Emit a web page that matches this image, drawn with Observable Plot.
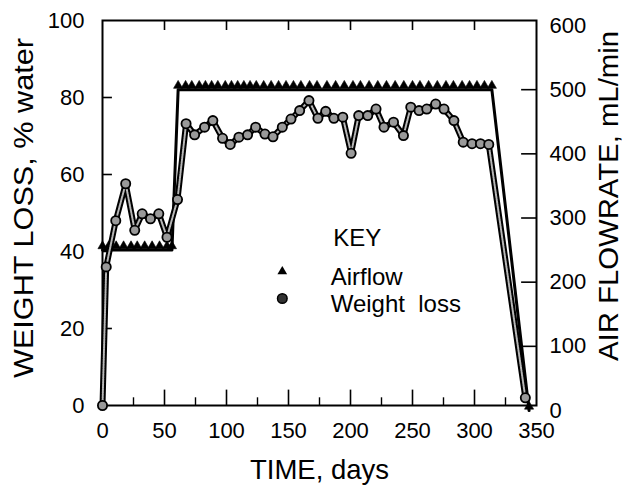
<!DOCTYPE html>
<html><head><meta charset="utf-8">
<script src="https://cdn.jsdelivr.net/npm/d3@7"></script>
<script src="https://cdn.jsdelivr.net/npm/@observablehq/plot@0.6"></script>
<style>
body{margin:0;background:#fff;}
</style></head><body><div id="chart"></div>
<script>
// Weight loss (% water) vs time (days)
const wlDays = [0, 3, 10.7, 18.7, 26, 32, 38.7, 45.4, 52, 60.5, 67.4, 74.3, 82.3, 89, 96.8, 103, 110, 117, 123.5, 131, 137.5, 145, 152, 159, 166.5, 173.7, 180, 186.6, 193.8, 200.5, 206.6, 213.9, 220.6, 227, 234.7, 242.7, 248.6, 255.3, 261.5, 268.7, 275.4, 283.4, 290.9, 298, 304.8, 311.5, 341];
const wlValues = [0, 36, 48, 57.6, 45.5, 49.8, 48.5, 49.8, 43.7, 53.5, 73.2, 70.3, 72.3, 74, 69.4, 67.8, 69.7, 70.3, 72.3, 70.5, 69.8, 72.3, 74.4, 76.6, 79.2, 74.6, 76.4, 74.6, 74.9, 65.5, 75.3, 75.3, 77, 72.3, 73.6, 70.1, 77.5, 76.6, 77, 78.3, 77, 74, 68.4, 68, 68, 67.8, 2];
// Air flowrate (mL/min) vs time (days)
const airDays = [0, 5, 11, 17, 23, 28, 34, 40, 46, 52, 56, 61, 67, 72, 78, 83, 88, 93, 99, 104, 109, 114, 119, 124, 130, 136, 142, 148, 154, 160, 167, 173, 181, 188, 195, 202, 208, 215, 222, 229, 236, 243, 250, 256, 263, 270, 277, 283, 290, 296, 302, 308, 314, 344];
const airValues = [250, 250, 250, 250, 250, 250, 250, 250, 250, 250, 250, 500, 500, 500, 500, 500, 500, 500, 500, 500, 500, 500, 500, 500, 500, 500, 500, 500, 500, 500, 500, 500, 500, 500, 500, 500, 500, 500, 500, 500, 500, 500, 500, 500, 500, 500, 500, 500, 500, 500, 500, 500, 500, 0];

const xTicks = [0, 50, 100, 150, 200, 250, 300, 350];
const xMinorTicks = [25, 75, 125, 175, 225, 275, 325];
const leftTicks = [0, 20, 40, 60, 80, 100];
const rightTicks = [0, 100, 200, 300, 400, 500, 600];
const xLabel = "TIME, days";
const yLabel = "WEIGHT LOSS, % water";
const y2Label = "AIR FLOWRATE, mL/min";
const keyTitle = "KEY";
const keyLabels = ["Airflow", "Weight  loss"];

// right axis (mL/min) mapped onto left scale units
const airToLeft = a => a / 6 - 1.3;

const wl = wlDays.map((d, i) => ({day: d, value: wlValues[i]}));
const air = airDays.map((d, i) => ({day: d, value: airToLeft(airValues[i])}));

// legend layout (in scale units)
const keyX = 145, keyTextX = 184;
const keyY = [34.8, 27.8];

const font = "'Liberation Sans', Arial, Helvetica, sans-serif";

const plot = Plot.plot({
  width: 628, height: 487,
  marginLeft: 102, marginRight: 92, marginTop: 20, marginBottom: 82,
  x: {domain: [0, 350], axis: null},
  y: {domain: [0, 100], axis: null},
  style: {fontFamily: font, background: "#fff", color: "#000"},
  marks: [
    // ticks (inward)
    Plot.ruleX(xTicks.slice(1, -1), {x: d => d, y1: 0, y2: 4, stroke: "#000", strokeWidth: 1.6}),
    Plot.ruleX(xMinorTicks, {x: d => d, y1: 0, y2: 2, stroke: "#000", strokeWidth: 1.4}),
    Plot.ruleX(xTicks.slice(1, -1), {x: d => d, y1: 100, y2: 97.4, stroke: "#000", strokeWidth: 1.6}),
    Plot.ruleY(leftTicks.slice(1, -1), {y: d => d, x1: 0, x2: 8, stroke: "#000", strokeWidth: 1.6}),
    Plot.ruleY(rightTicks.slice(1, -1), {y: d => airToLeft(d), x1: 338, x2: 350, stroke: "#000", strokeWidth: 1.6}),
    Plot.frame({stroke: "#000", strokeWidth: 2}),
    // tick labels
    Plot.text(xTicks, {x: d => d, text: d => String(d), frameAnchor: "bottom", dy: 25, lineAnchor: "middle", fontSize: 22}),
    Plot.text(leftTicks, {y: d => d, text: d => String(d), frameAnchor: "left", dx: -18, textAnchor: "end", lineAnchor: "middle", fontSize: 22}),
    Plot.text(rightTicks, {y: d => airToLeft(d), text: d => String(d), frameAnchor: "right", dx: 13, textAnchor: "start", lineAnchor: "middle", fontSize: 22}),
    // axis titles
    Plot.text([xLabel], {frameAnchor: "bottom", dy: 65, textAnchor: "middle", lineAnchor: "middle", fontSize: 27.5}),
    Plot.text([yLabel], {frameAnchor: "left", dx: -78, dy: -5, rotate: -90, textAnchor: "middle", lineAnchor: "middle", fontSize: 27, className: "ytitle"}),
    Plot.text([y2Label], {frameAnchor: "right", dx: 73, dy: -17, rotate: -90, textAnchor: "middle", lineAnchor: "middle", fontSize: 27, className: "y2title"}),
    // airflow
    Plot.line(air, {x: "day", y: "value", stroke: "#000", strokeWidth: 3}),
    Plot.dot(air, {x: "day", y: "value", symbol: "triangle", r: 3.4, fill: "#000", stroke: "#000", strokeWidth: 0.6, dy: -4}),
    // weight loss
    Plot.line(wl, {x: "day", y: "value", stroke: "#000", strokeWidth: 6}),
    Plot.line(wl, {x: "day", y: "value", stroke: "#b8b8b8", strokeWidth: 2, strokeDasharray: "1.5,1"}),
    Plot.dot(wl, {x: "day", y: "value", r: 4.6, fill: "#9a9a9a", stroke: "#000", strokeWidth: 1.8}),
    // key
    Plot.text([keyTitle], {x: keyTextX + 2, y: 43.4, textAnchor: "start", lineAnchor: "middle", fontSize: 24}),
    Plot.dot([0], {x: keyX, y: keyY[0], symbol: "triangle", r: 3.6, fill: "#000"}),
    Plot.dot([0], {x: keyX, y: keyY[1], r: 4.8, fill: "#333", stroke: "#000"}),
    Plot.text(keyLabels, {x: keyTextX, y: (d, i) => keyY[i] - 1.6, textAnchor: "start", lineAnchor: "middle", fontSize: 24})
  ]
});
// stretch rotated titles to the reference's length
d3.select(plot).selectAll("g.ytitle text").attr("textLength", 340).attr("lengthAdjust", "spacingAndGlyphs");
d3.select(plot).selectAll("g.y2title text").attr("textLength", 330).attr("lengthAdjust", "spacingAndGlyphs");
document.getElementById("chart").appendChild(plot);
</script></body></html>
